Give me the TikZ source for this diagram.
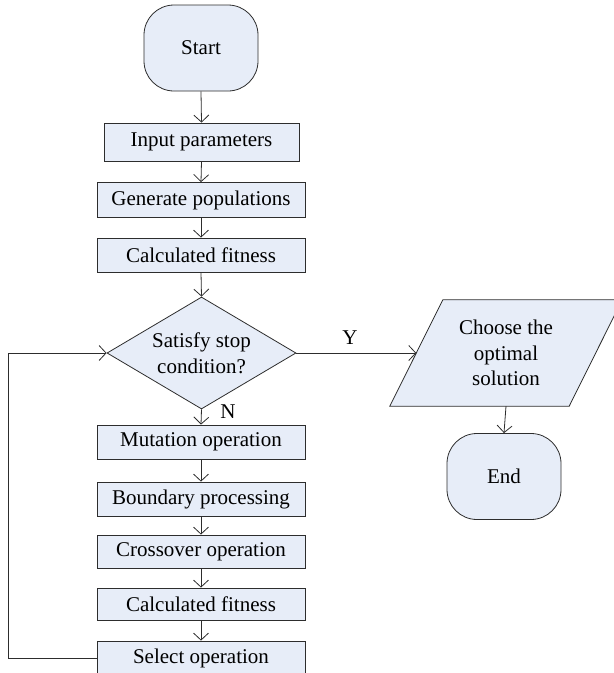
\documentclass[tikz,border=0pt]{standalone}
\usepackage{fontspec}
\setmainfont{Liberation Serif}
\usepackage{xcolor}
\usepackage{tikz}
\usetikzlibrary{positioning,arrows.meta,shapes.geometric,backgrounds}

\definecolor{boxFill}{RGB}{231,237,248}
\definecolor{lineGray}{RGB}{45,45,45}

\begin{document}
\begin{tikzpicture}[
  x=1pt, y=1pt,
  every node/.style={font=\fontsize{21}{25.5}\selectfont},
  stepBox/.style={rectangle, draw=lineGray, fill=boxFill, line width=0.8pt,
                  minimum width=208pt, minimum height=34pt, inner sep=0pt},
  termNode/.style={rectangle, rounded corners=30pt, draw=lineGray,
                   fill=boxFill, line width=0.8pt,
                   minimum width=114pt, minimum height=86pt},
  decisionNode/.style={diamond, aspect=1.69, draw=lineGray, fill=boxFill,
                       line width=0.8pt, inner sep=0pt, align=center,
                       minimum width=189pt, minimum height=112pt},
  flowArrow/.style={-{Straight Barb[length=7pt,width=15pt]}, draw=lineGray,
                    line width=0.8pt}
]
  \useasboundingbox (0,0) rectangle (614,-673);

  % === Main column ===
  \node[termNode] (start) at (201,-48) {Start};
  \node[stepBox, minimum width=195pt, minimum height=38pt] (inp)
    at (201.5,-142) {Input parameters};
  \node[stepBox, minimum height=35pt] (gen) at (201,-200)
    {Generate populations};
  \node[stepBox] (fit1) at (201,-255) {Calculated fitness};
  \node[decisionNode] (dec) at (201.5,-353) {Satisfy stop\\condition?};
  \node[stepBox] (mut) at (201,-442) {Mutation operation};
  \node[stepBox] (bnd) at (201,-499) {Boundary processing};
  \node[stepBox, minimum height=33pt] (crs) at (201,-551.5)
    {Crossover operation};
  \node[stepBox, minimum height=32pt] (fit2) at (201,-604)
    {Calculated fitness};
  \node[stepBox] (sel) at (201,-658) {Select operation};

  \draw[flowArrow] (start.south) -- (inp.north);
  \draw[flowArrow] (inp.south) -- (gen.north);
  \draw[flowArrow] (gen.south) -- (fit1.north);
  \draw[flowArrow] (fit1.south) -- (dec.north);
  \draw[flowArrow] (dec.south) -- (mut.north);
  \draw[flowArrow] (mut.south) -- (bnd.north);
  \draw[flowArrow] (bnd.south) -- (crs.north);
  \draw[flowArrow] (crs.south) -- (fit2.north);
  \draw[flowArrow] (fit2.south) -- (sel.north);

  % loop back to the stop test
  \coordinate (loopCorner) at (8,-658);
  \draw[flowArrow] (sel.west) -- (loopCorner) |- (dec.west);

  % === Output branch ===
  \node[align=center, minimum width=179pt, minimum height=106pt,
        inner sep=0pt] (par) at (506,-353)
    {Choose the\\optimal\\solution};
  \begin{scope}[on background layer]
    \draw[draw=lineGray, fill=boxFill, line width=0.8pt]
      ([xshift=-26.5pt]par.south west) -- ([xshift=-26.5pt]par.south east)
      -- ([xshift=26.5pt]par.north east) -- ([xshift=26.5pt]par.north west)
      -- cycle;
  \end{scope}
  \node[termNode] (finish) at (504,-476.5) {End};

  \draw[flowArrow] (dec.east) -- (par.west);
  \draw[flowArrow] (par.south) -- (finish.north);

  % branch labels
  \node (yes) at (350,-338) {Y};
  \node (no) at (228,-412) {N};
\end{tikzpicture}
\end{document}
